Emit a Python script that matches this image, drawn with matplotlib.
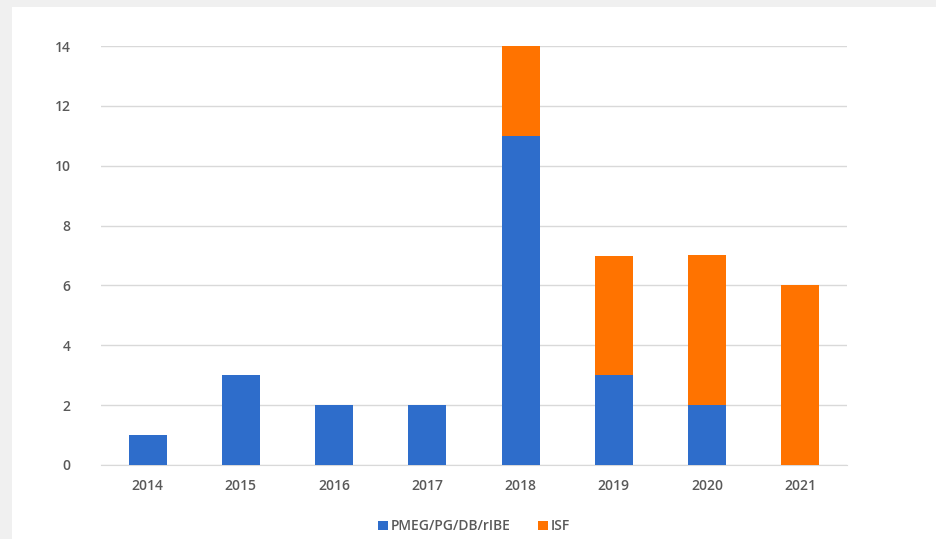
import numpy as np
import matplotlib.pyplot as plt
from matplotlib.patches import Rectangle

years = ['2014', '2015', '2016', '2017', '2018', '2019', '2020', '2021']
pmeg = [1, 3, 2, 2, 11, 3, 2, 0]
isf = [0, 0, 0, 0, 3, 4, 5, 6]

blue = '#2E6DCB'
orange = '#FF7300'

plt.rcParams['font.family'] = ['Open Sans', 'DejaVu Sans']
plt.rcParams['font.weight'] = 600

fig = plt.figure(figsize=(9.37, 5.39), dpi=100, facecolor='#F0F0F0')
# white card on the grey background
fig.add_artist(Rectangle((12 / 937, 0), 1, 1 - 7 / 539, transform=fig.transFigure,
                         facecolor='white', edgecolor='none', zorder=-5))

ax = fig.add_axes([101 / 937, 74 / 539, 746 / 937, 419 / 539])
ax.set_facecolor('none')

x = np.arange(len(years))
ax.bar(x, pmeg, width=0.41, color=blue, label='PMEG/PG/DB/rIBE', zorder=3)
ax.bar(x, isf, width=0.41, bottom=pmeg, color=orange, label='ISF', zorder=3)

ax.set_xlim(-0.5, len(years) - 0.5)
ax.set_ylim(0, 14)
ax.set_yticks(range(0, 15, 2))
ax.set_xticks(x)
ax.set_xticklabels(years)
ax.grid(axis='y', color='#D9D9D9', linewidth=1, zorder=0)
ax.tick_params(length=0, labelsize=10, colors='#595959', pad=10)
ax.tick_params(axis='y', pad=22)
for s in ['top', 'right', 'left']:
    ax.spines[s].set_visible(False)
ax.spines['bottom'].set_color('#D9D9D9')

ax.legend(loc='upper center', bbox_to_anchor=(0.5, -0.1), ncol=2, frameon=False,
          fontsize=10, handlelength=0.7, handleheight=0.7, handletextpad=0.2,
          columnspacing=2.0, labelcolor='#595959')

plt.savefig('out.png', dpi=100, facecolor=fig.get_facecolor())
